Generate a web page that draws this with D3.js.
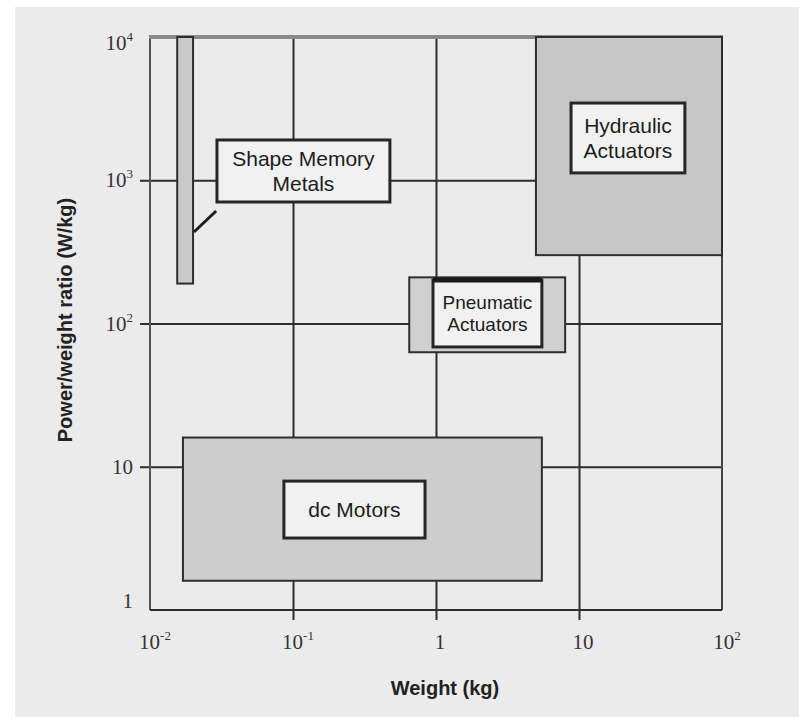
<!DOCTYPE html>
<html>
<head>
<meta charset="utf-8">
<script src="https://cdn.jsdelivr.net/npm/d3@7"></script>
<style>
  html, body { margin: 0; padding: 0; background: #ffffff; }
  svg { display: block; }
</style>
</head>
<body>
<svg id="chart" width="799" height="717"></svg>
<script>
// Actuator families: weight range (kg) against power/weight range (W/kg)
const regionNames = ["Shape Memory Metals", "Hydraulic Actuators", "Pneumatic Actuators", "dc Motors"];
const regionLines = [["Shape Memory", "Metals"], ["Hydraulic", "Actuators"], ["Pneumatic", "Actuators"], ["dc Motors"]];
const weightMin = [0.0155, 5, 0.65, 0.017];
const weightMax = [0.02, 100, 8, 5.5];
const ratioMin = [190, 300, 63, 1.6];
const ratioMax = [10000, 10000, 210, 16];

// Axis ticks and their printed labels (base, exponent)
const weightTicks = [0.01, 0.1, 1, 10, 100];
const weightTickLabels = [["10", "-2"], ["10", "-1"], ["1", ""], ["10", ""], ["10", "2"]];
const ratioTicks = [1, 10, 100, 1000, 10000];
const ratioTickLabels = [["1", ""], ["10", ""], ["10", "2"], ["10", "3"], ["10", "4"]];

// Callout boxes, given in axis units so they stay tied to the scales
const labelLayout = [
  { w0: 0.0294, w1: 0.476, r0: 705, r1: 1910, size: 21, step: 25 },
  { w0: 8.8, w1: 55, r0: 1125, r1: 3460, size: 21, step: 25 },
  { w0: 0.953, w1: 5.5, r0: 68.6, r1: 201, size: 19, step: 22 },
  { w0: 0.0864, w1: 0.838, r0: 3.18, r1: 7.94, size: 21, step: 25 }
];
// Pointer from the Shape Memory Metals callout to its bar
const pointer = { wFrom: 0.029, rFrom: 610, wTo: 0.0203, rTo: 435 };

const svg = d3.select("#chart");
const W = 799, H = 717;
const plot = { left: 150, right: 722, top: 37, bottom: 610 };

// scanned-page backdrop
svg.append("rect").attr("x", 15).attr("y", 7).attr("width", W - 15).attr("height", H - 7)
  .attr("fill", "#ebebeb");

const x = d3.scaleLog().domain([0.01, 100]).range([plot.left, plot.right]);
const y = d3.scaleLog().domain([1, 10000]).range([plot.bottom, plot.top]);

const ink = "#2e2e2e";

// vertical grid lines with ticks below the frame
const xAxis = d3.axisBottom(x).tickValues(weightTicks.slice(1, -1))
  .tickSize(plot.bottom - plot.top + 10).tickFormat("");
const gx = svg.append("g").attr("transform", `translate(0,${plot.top})`).call(xAxis);
gx.select(".domain").remove();
gx.selectAll(".tick line").attr("stroke", ink).attr("stroke-width", 2);

// horizontal grid lines with ticks left of the frame
const yAxis = d3.axisRight(y).tickValues(ratioTicks.slice(1, -1))
  .tickSize(plot.right - plot.left + 10).tickFormat("");
const gy = svg.append("g").attr("transform", `translate(${plot.left - 10},0)`).call(yAxis);
gy.select(".domain").remove();
gy.selectAll(".tick line").attr("stroke", ink).attr("stroke-width", 2);

// frame
svg.append("line").attr("x1", plot.left).attr("x2", plot.left).attr("y1", plot.top).attr("y2", plot.bottom)
  .attr("stroke", "#555").attr("stroke-width", 2);
svg.append("line").attr("x1", plot.right).attr("x2", plot.right).attr("y1", plot.top).attr("y2", plot.bottom)
  .attr("stroke", "#444").attr("stroke-width", 2);
svg.append("line").attr("x1", plot.left).attr("x2", plot.right).attr("y1", plot.bottom).attr("y2", plot.bottom)
  .attr("stroke", ink).attr("stroke-width", 2);
svg.append("line").attr("x1", plot.left - 1).attr("x2", plot.right + 1).attr("y1", plot.top).attr("y2", plot.top)
  .attr("stroke", "#8a8a8a").attr("stroke-width", 4);

// shaded ranges
const regionFill = ["#c9c9c9", "#c6c6c6", "#d0d0d0", "#cdcdcd"];
const regions = regionNames.map((name, i) => ({
  name, i, w0: weightMin[i], w1: weightMax[i], r0: ratioMin[i], r1: ratioMax[i]
}));
svg.append("g").selectAll("rect").data(regions).join("rect")
  .attr("x", d => x(d.w0))
  .attr("y", d => y(d.r1))
  .attr("width", d => x(d.w1) - x(d.w0))
  .attr("height", d => y(d.r0) - y(d.r1))
  .attr("fill", d => regionFill[d.i])
  .attr("stroke", ink)
  .attr("stroke-width", 2);

// callout boxes
const boxes = labelLayout.map((b, i) => ({ ...b, i, lines: regionLines[i] }));
const boxG = svg.append("g").selectAll("g").data(boxes).join("g");
boxG.append("rect")
  .attr("x", d => x(d.w0))
  .attr("y", d => y(d.r1))
  .attr("width", d => x(d.w1) - x(d.w0))
  .attr("height", d => y(d.r0) - y(d.r1))
  .attr("fill", "#f1f1f1")
  .attr("stroke", "#262626")
  .attr("stroke-width", 3);
// heavier top rule on the pneumatic callout
boxG.filter(d => d.i === 2).append("line")
  .attr("x1", d => x(d.w0)).attr("x2", d => x(d.w1))
  .attr("y1", d => y(d.r1)).attr("y2", d => y(d.r1))
  .attr("stroke", "#1a1a1a").attr("stroke-width", 5);

boxG.each(function (d) {
  const g = d3.select(this);
  const cx = (x(d.w0) + x(d.w1)) / 2;
  const cy = (y(d.r0) + y(d.r1)) / 2;
  d.lines.forEach((t, k) => {
    g.append("text")
      .attr("x", cx)
      .attr("y", cy + (k - (d.lines.length - 1) / 2) * d.step)
      .attr("text-anchor", "middle")
      .attr("dominant-baseline", "central")
      .attr("font-family", "'Liberation Sans', Arial, sans-serif")
      .attr("font-size", d.size)
      .attr("fill", "#1c1c1c")
      .text(t);
  });
});

// pointer line
svg.append("line")
  .attr("x1", x(pointer.wFrom)).attr("y1", y(pointer.rFrom))
  .attr("x2", x(pointer.wTo)).attr("y2", y(pointer.rTo))
  .attr("stroke", "#1e1e1e").attr("stroke-width", 3);

// tick labels
const tickFont = "'Liberation Serif', 'DejaVu Serif', serif";
function powerLabel(sel, parts) {
  sel.append("tspan").text(parts[0]);
  if (parts[1]) {
    sel.append("tspan").attr("font-size", 13).attr("dy", -9).text(parts[1]);
  }
}
weightTicks.forEach((v, i) => {
  const t = svg.append("text")
    .attr("x", x(v) + (weightTickLabels[i][1] ? 5 : 4))
    .attr("y", 649)
    .attr("text-anchor", "middle")
    .attr("font-family", tickFont)
    .attr("font-size", 21)
    .attr("fill", "#333");
  powerLabel(t, weightTickLabels[i]);
});
ratioTicks.forEach((v, i) => {
  const yy = i === 0 ? y(v) - 2 : (i === 4 ? y(v) + 13 : y(v) + 7);
  const t = svg.append("text")
    .attr("x", 133)
    .attr("y", yy)
    .attr("text-anchor", "end")
    .attr("font-family", tickFont)
    .attr("font-size", 21)
    .attr("fill", "#333");
  powerLabel(t, ratioTickLabels[i]);
});

// axis titles
svg.append("text")
  .attr("x", 445).attr("y", 695)
  .attr("text-anchor", "middle")
  .attr("font-family", "'Liberation Sans', Arial, sans-serif")
  .attr("font-weight", "bold")
  .attr("font-size", 20)
  .attr("fill", "#222")
  .text("Weight (kg)");
svg.append("text")
  .attr("transform", "translate(72,320) rotate(-90)")
  .attr("text-anchor", "middle")
  .attr("font-family", "'Liberation Sans', Arial, sans-serif")
  .attr("font-weight", "bold")
  .attr("font-size", 20)
  .attr("fill", "#222")
  .text("Power/weight ratio (W/kg)");
</script>
</body>
</html>
